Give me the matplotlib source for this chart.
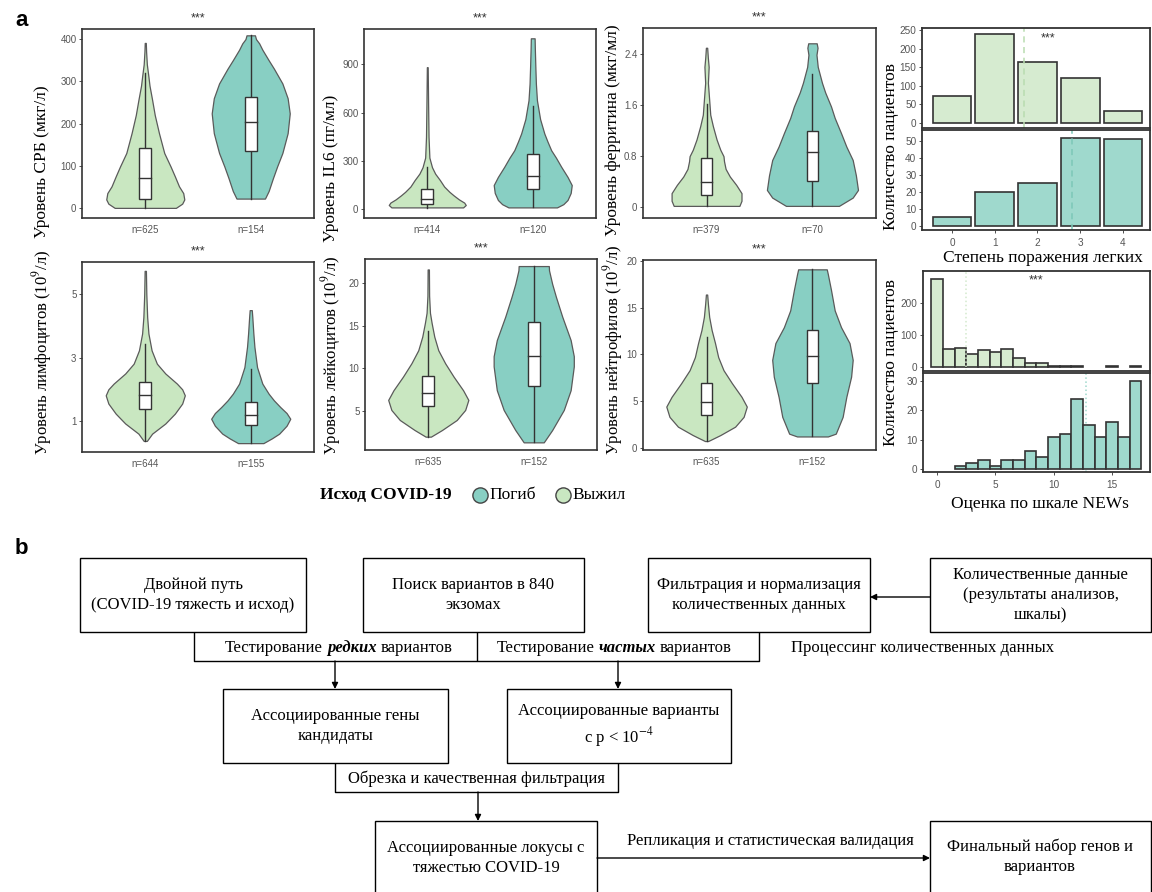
import numpy as np
import matplotlib
matplotlib.use('Agg')
import matplotlib.pyplot as plt
from matplotlib.patches import Rectangle

W, H = 1152, 892

ALIVE = '#c9e7c1'
DEAD = '#88cfc3'
ALIVE_BAR = '#d6ebd0'
DEAD_BAR = '#9fd9cd'
EDGE = '#5a5a5a'
DARK = '#333333'
TICK = '#555555'
SERIF = 'Liberation Serif'
SANS = 'Liberation Sans'

plt.rcParams['mathtext.fontset'] = 'stix'

# violin outlines: (value levels, half widths), box stats: (lo, q1, median, q3, hi)
crp_alive = ([0, 10, 20, 35, 51, 75, 98, 130, 177, 220, 256, 290, 311, 340, 370, 391],
             [0.29, 0.35, 0.37, 0.36, 0.32, 0.28, 0.24, 0.18, 0.13, 0.09, 0.065, 0.04, 0.03, 0.015, 0.008, 0.005])
crp_dead = ([22, 40, 70, 98, 130, 177, 224, 260, 295, 330, 350, 375, 390, 400, 409],
            [0.135, 0.17, 0.21, 0.25, 0.30, 0.35, 0.37, 0.35, 0.30, 0.22, 0.17, 0.11, 0.08, 0.05, 0.04])
crp_box = [(0, 21, 71, 143, 320), (22, 134, 203, 262, 409)]
crp_n = [625, 154]

il6_alive = ([10, 25, 40, 60, 85, 107, 140, 180, 220, 260, 320, 450, 650, 883],
             [0.34, 0.365, 0.35, 0.30, 0.25, 0.21, 0.16, 0.12, 0.075, 0.045, 0.02, 0.012, 0.008, 0.004])
il6_dead = ([10, 30, 56, 100, 149, 200, 263, 320, 366, 420, 470, 560, 677, 780, 883, 1000, 1063],
            [0.23, 0.29, 0.33, 0.36, 0.37, 0.33, 0.27, 0.22, 0.175, 0.14, 0.11, 0.07, 0.04, 0.03, 0.025, 0.02, 0.018])
il6_box = [(8, 29, 60, 122, 262), (10, 124, 205, 341, 639)]
il6_n = [414, 120]

fer_alive = ([0.02, 0.1, 0.22, 0.35, 0.48, 0.6, 0.72, 0.8, 0.9, 1.06, 1.27, 1.45, 1.68, 1.95, 2.2, 2.35, 2.5],
             [0.31, 0.33, 0.33, 0.28, 0.22, 0.18, 0.165, 0.16, 0.13, 0.095, 0.06, 0.035, 0.025, 0.013, 0.02, 0.012, 0.006])
fer_dead = ([0.02, 0.15, 0.27, 0.5, 0.74, 0.95, 1.16, 1.4, 1.58, 1.8, 1.95, 2.2, 2.39, 2.5, 2.57],
            [0.25, 0.38, 0.43, 0.41, 0.38, 0.32, 0.27, 0.21, 0.175, 0.12, 0.09, 0.05, 0.038, 0.048, 0.04])
fer_box = [(0.02, 0.19, 0.40, 0.77, 1.62), (0.02, 0.41, 0.86, 1.20, 2.09)]
fer_n = [379, 70]

lym_alive = ([0.37, 0.6, 0.92, 1.23, 1.55, 1.81, 2.0, 2.18, 2.5, 2.81, 3.23, 3.76, 4.28, 5.0, 5.74],
             [0.015, 0.065, 0.19, 0.28, 0.35, 0.375, 0.35, 0.30, 0.19, 0.11, 0.06, 0.03, 0.018, 0.01, 0.006])
lym_dead = ([0.3, 0.45, 0.6, 0.85, 1.07, 1.25, 1.44, 1.65, 1.86, 2.18, 2.7, 3.34, 3.76, 4.28, 4.5],
            [0.12, 0.2, 0.27, 0.34, 0.375, 0.34, 0.28, 0.22, 0.17, 0.11, 0.06, 0.035, 0.025, 0.015, 0.01])
lym_box = [(0.37, 1.37, 1.81, 2.23, 3.44), (0.3, 0.86, 1.18, 1.6, 2.65)]
lym_n = [644, 155]

leu_alive = ([1.94, 2.72, 3.9, 5.08, 6.26, 7.4, 9.0, 10.57, 12.1, 13.7, 15.3, 16.5, 18.5, 21.6],
             [0.025, 0.13, 0.27, 0.35, 0.38, 0.33, 0.24, 0.16, 0.095, 0.057, 0.032, 0.016, 0.008, 0.006])
leu_dead = ([1.27, 2.72, 5.08, 7.4, 10.2, 11.4, 13.3, 16.06, 18.4, 19.9, 21.5, 22.0],
            [0.095, 0.175, 0.285, 0.35, 0.38, 0.38, 0.35, 0.27, 0.21, 0.175, 0.145, 0.143])
leu_box = [(1.94, 5.6, 7.1, 9.1, 14.4), (1.27, 7.9, 11.4, 15.4, 22.0)]
leu_n = [635, 152]

neu_alive = ([0.71, 1.35, 2.25, 3.3, 4.4, 5.45, 6.9, 8.3, 9.7, 11.2, 12.6, 14.0, 15.4, 16.4],
             [0.015, 0.13, 0.27, 0.35, 0.38, 0.33, 0.24, 0.16, 0.11, 0.08, 0.048, 0.025, 0.013, 0.006])
neu_dead = ([1.2, 1.5, 3.3, 5.45, 7.6, 9.4, 11.2, 12.9, 14.7, 16.9, 18.6, 19.1],
            [0.145, 0.22, 0.285, 0.32, 0.365, 0.38, 0.35, 0.27, 0.21, 0.175, 0.145, 0.135])
neu_box = [(0.71, 3.5, 4.9, 6.95, 11.8), (1.2, 6.95, 9.8, 12.65, 19.1)]
neu_n = [635, 152]

# lung damage grade and NEWS score counts
lung_grade = [0, 1, 2, 3, 4]
lung_alive = [73, 238, 163, 121, 32]
lung_dead = [5, 20, 25, 52, 51]
news_score = list(range(18))
news_alive = [275, 57, 58, 42, 53, 47, 55, 28, 12, 14, 2, 2, 4, 0, 0, 2, 0, 2]
news_dead = [0, 0, 1, 2, 3, 1, 3, 3, 6, 4, 11, 12, 24, 15, 11, 16, 11, 30]

fig = plt.figure(figsize=(W / 100, H / 100), dpi=100)

# pixel-space canvas for labels and the flowchart
cv = fig.add_axes([0, 0, 1, 1])
cv.set_xlim(0, W)
cv.set_ylim(H, 0)
cv.set_axis_off()


def px_axes(x0, y0, x1, y1):
    return fig.add_axes([x0 / W, 1 - y1 / H, (x1 - x0) / W, (y1 - y0) / H])


def style_frame(ax, lw=1.2, size=7):
    for sp in ax.spines.values():
        sp.set_color(DARK)
        sp.set_linewidth(lw)
    ax.tick_params(axis='y', length=2.5, width=0.6, color=DARK, labelsize=size,
                   labelcolor=TICK, pad=1.5)
    for lab in ax.get_yticklabels() + ax.get_xticklabels():
        lab.set_family(SANS)


def violin_panel(box, lab_x, lab_y, lab_size, ylabel, ylim, yticks, ytick_labels,
                 shapes, stats, counts):
    ax = px_axes(*box)
    for pos, (lv, hw), st, col in zip([1, 2], shapes, stats, [ALIVE, DEAD]):
        lv = np.asarray(lv)
        hw = np.asarray(hw)
        ax.fill_betweenx(lv, pos - hw, pos + hw, facecolor=col, edgecolor=EDGE, lw=0.9)
        lo, q1, med, q3, hi = st
        ax.plot([pos, pos], [lo, hi], color=DARK, lw=1.0, zorder=3)
        ax.add_patch(Rectangle((pos - 0.055, q1), 0.11, q3 - q1, facecolor='white',
                               edgecolor=DARK, lw=1.0, zorder=4))
        ax.plot([pos - 0.055, pos + 0.055], [med, med], color=DARK, lw=1.0, zorder=5)
    ax.set_xlim(0.4, 2.6)
    ax.set_ylim(*ylim)
    ax.set_yticks(yticks)
    ax.set_yticklabels(ytick_labels)
    ax.set_xticks([1, 2])
    ax.set_xticklabels(['n=%d' % c for c in counts])
    style_frame(ax)
    ax.tick_params(axis='x', length=0, labelsize=7, labelcolor=TICK, pad=5)
    ax.text(0.5, 1.025, '***', transform=ax.transAxes, ha='center', va='bottom',
            fontsize=9, color=DARK, family=SANS)
    # axis title starts at lab_y and runs upward
    cv.text(lab_x, lab_y, ylabel, rotation=90, ha='center', va='bottom',
            fontsize=lab_size, family=SERIF)
    return ax


violin_panel((82, 29, 314, 218), 42, 238, 12.5, 'Уровень СРБ (мкг/л)', (-24, 424),
             [0, 100, 200, 300, 400], ['0', '100', '200', '300', '400'],
             (crp_alive, crp_dead), crp_box, crp_n)
violin_panel((364, 29, 596, 218), 331, 242, 12.5, 'Уровень IL6 (пг/мл)', (-56, 1121),
             [0, 300, 600, 900], ['0', '300', '600', '900'],
             (il6_alive, il6_dead), il6_box, il6_n)
violin_panel((643, 28, 876, 218), 613, 236, 12.5, 'Уровень ферритина (мкг/мл)', (-0.17, 2.81),
             [0, 0.8, 1.6, 2.4], ['0', '0.8', '1.6', '2.4'],
             (fer_alive, fer_dead), fer_box, fer_n)
violin_panel((82, 262, 314, 452), 42, 455, 12, 'Уровень лимфоцитов (10$^9$/л)', (0.02, 6.02),
             [1, 3, 5], ['1', '3', '5'],
             (lym_alive, lym_dead), lym_box, lym_n)
violin_panel((365, 259, 597, 450), 331, 455, 12, 'Уровень лейкоцитов (10$^9$/л)', (0.37, 22.83),
             [5, 10, 15, 20], ['5', '10', '15', '20'],
             (leu_alive, leu_dead), leu_box, leu_n)
violin_panel((643, 260, 876, 450), 613, 455, 12, 'Уровень нейтрофилов (10$^9$/л)', (-0.25, 20.1),
             [0, 5, 10, 15, 20], ['0', '5', '10', '15', '20'],
             (neu_alive, neu_dead), neu_box, neu_n)


def hist_panel(box, x, counts, color, width, xlim, ylim, yticks, line_col, line_ls, show_x, xticks):
    ax = px_axes(*box)
    xs = [a for a, c in zip(x, counts) if c > 0]
    cs = [c for c in counts if c > 0]
    ax.bar(xs, cs, width=width, color=color, edgecolor=DARK, lw=1.2)
    mean = np.average(x, weights=counts)
    ax.axvline(mean, color=line_col, ls=line_ls, lw=1.1)
    ax.set_xlim(*xlim)
    ax.set_ylim(*ylim)
    ax.set_yticks(yticks)
    ax.set_xticks(xticks)
    if not show_x:
        ax.set_xticklabels([])
        ax.tick_params(axis='x', length=0)
    else:
        ax.tick_params(axis='x', length=2.5, width=0.6, color=DARK, labelsize=7.2,
                       labelcolor=TICK, pad=3)
    style_frame(ax, lw=1.3, size=7.2)
    return ax


ax = hist_panel((922, 28, 1150, 128), lung_grade, lung_alive, ALIVE_BAR, 0.9, (-0.7, 4.63),
                (-13, 255), [0, 50, 100, 150, 200, 250], '#b9dcb0', (0, (4, 3)), False, lung_grade)
ax.text(0.52, 0.9, '***', transform=ax.transAxes, ha='left', va='center', fontsize=9,
        color=DARK, family=SANS)
hist_panel((922, 130, 1150, 230), lung_grade, lung_dead, DEAD_BAR, 0.9, (-0.7, 4.63),
           (-2.4, 56.5), [0, 10, 20, 30, 40, 50], '#7cc8b8', (0, (4, 3)), True, lung_grade)

ax = hist_panel((923, 271, 1150, 371), news_score, news_alive, ALIVE_BAR, 1.0, (-1.2, 18.25),
                (-12.5, 300), [0, 100, 200], '#d3e9cd', ':', False, [0, 5, 10, 15])
ax.text(0.5, 0.91, '***', transform=ax.transAxes, ha='center', va='center', fontsize=9,
        color=DARK, family=SANS)
hist_panel((923, 373, 1150, 472), news_score, news_dead, DEAD_BAR, 1.0, (-1.2, 18.25),
           (-1.0, 32.8), [0, 10, 20, 30], '#9fd9cd', ':', True, [0, 5, 10, 15])

cv.text(891, 146, 'Количество пациентов', rotation=90, ha='center', va='center',
        fontsize=12.5, family=SERIF)
cv.text(891, 362, 'Количество пациентов', rotation=90, ha='center', va='center',
        fontsize=12.5, family=SERIF)
cv.text(1043, 258, 'Степень поражения легких', ha='center', va='center',
        fontsize=12.5, family=SERIF)
cv.text(1040, 504, 'Оценка по шкале NEWs', ha='center', va='center',
        fontsize=12.5, family=SERIF)

# legend
cv.text(320, 495, 'Исход COVID-19', ha='left', va='center', fontsize=12.5,
        family=SERIF, weight='bold')
cv.scatter([480], [495], s=120, color=DEAD, edgecolor='#444444', lw=1.0, zorder=5)
cv.text(489, 495, 'Погиб', ha='left', va='center', fontsize=12.5, family=SERIF)
cv.scatter([563], [495], s=120, color=ALIVE, edgecolor='#444444', lw=1.0, zorder=5)
cv.text(572, 495, 'Выжил', ha='left', va='center', fontsize=12.5, family=SERIF)

cv.text(15, 20, 'a', ha='left', va='center', fontsize=16, family=SANS, weight='bold')
cv.text(15, 548, 'b', ha='left', va='center', fontsize=16, family=SANS, weight='bold')

# ---- flowchart
FS = 12


def box(x0, y0, x1, y1, label):
    cv.add_patch(Rectangle((x0, y0), x1 - x0, y1 - y0, facecolor='white',
                           edgecolor='black', lw=1.0))
    cv.text((x0 + x1) / 2, (y0 + y1) / 2, label, ha='center', va='center',
            fontsize=FS, family=SERIF, linespacing=1.35)


def line(xs, ys):
    cv.plot(xs, ys, color='black', lw=1.0, solid_capstyle='butt')


def arrow(x0, y0, x1, y1):
    cv.annotate('', xy=(x1, y1), xytext=(x0, y0),
                arrowprops=dict(arrowstyle='-|>', color='black', lw=1.0,
                                mutation_scale=9, shrinkA=0, shrinkB=0))


def text_runs(x, y, runs):
    renderer = fig.canvas.get_renderer()
    items = [cv.text(0, y, s, fontsize=FS, family=SERIF, ha='left', va='center', **kw)
             for s, kw in runs]
    widths = [t.get_window_extent(renderer).width for t in items]
    gap = FS * 1.389 * 0.25
    left = x - (sum(widths) + gap * (len(items) - 1)) / 2
    for t, w in zip(items, widths):
        t.set_x(left)
        left += w + gap


box(80, 558, 306, 632, 'Двойной путь\n(COVID-19 тяжесть и исход)')
box(363, 558, 584, 632, 'Поиск вариантов в 840\nэкзомах')
box(648, 558, 870, 632, 'Фильтрация и нормализация\nколичественных данных')
box(930, 558, 1151, 632, 'Количественные данные\n(результаты анализов,\nшкалы)')
arrow(930, 597, 870, 597)

line([194, 194, 759, 759], [632, 661, 661, 632])
line([477, 477], [632, 661])
text_runs(339, 648, [('Тестирование', {}), ('редких', dict(weight='bold', style='italic')),
                     ('вариантов', {})])
text_runs(614, 648, [('Тестирование', {}), ('частых', dict(weight='bold', style='italic')),
                     ('вариантов', {})])
cv.text(923, 648, 'Процессинг количественных данных', ha='center', va='center',
        fontsize=FS, family=SERIF)
arrow(335, 661, 335, 689)
arrow(618, 661, 618, 689)

box(223, 689, 448, 763, 'Ассоциированные гены\nкандидаты')
box(507, 689, 731, 763, 'Ассоциированные варианты\nс p < 10$^{-4}$')

line([335, 335, 618, 618], [763, 792, 792, 763])
cv.text(477, 779, 'Обрезка и качественная фильтрация', ha='center', va='center',
        fontsize=FS, family=SERIF)
arrow(478, 792, 478, 821)

box(375, 821, 597, 910, '')
cv.text(486, 858, 'Ассоциированные локусы с\nтяжестью COVID-19', ha='center', va='center',
        fontsize=FS, family=SERIF, linespacing=1.35)
box(930, 821, 1151, 910, '')
cv.text(1040, 857, 'Финальный набор генов и\nвариантов', ha='center', va='center',
        fontsize=FS, family=SERIF, linespacing=1.35)
arrow(597, 858, 930, 858)
cv.text(770, 841, 'Репликация и статистическая валидация', ha='center', va='center',
        fontsize=FS, family=SERIF)

fig.savefig('out.png', dpi=100)
